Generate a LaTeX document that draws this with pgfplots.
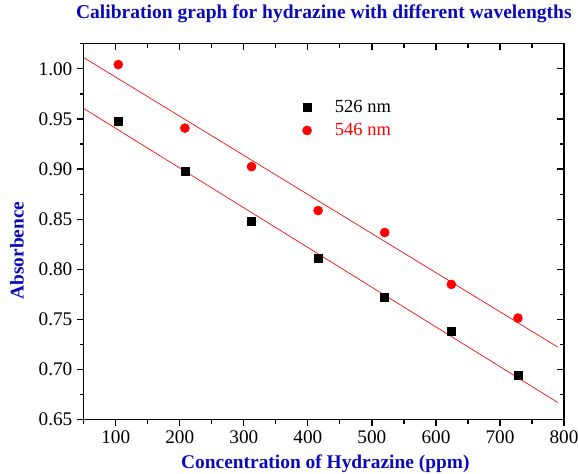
\documentclass[border=0pt]{standalone}
\usepackage{pgfplots}
\pgfplotsset{compat=1.18}
\usetikzlibrary{calc}
\usepackage{fontspec}
\setmainfont{Liberation Serif}
\definecolor{ttl}{RGB}{10,10,185}
\definecolor{rd}{RGB}{255,0,0}
\begin{document}
\begin{tikzpicture}
\pgfplotsset{
  common/.style={
    scale only axis, width=361.5pt, height=282.75pt,
    xmin=50, xmax=800, ymin=0.65, ymax=1.025,
    xtick={100,200,...,800}, minor xtick={50,150,...,750},
    ytick={0.65,0.70,...,1.00}, minor ytick={0.675,0.725,...,1.0},
    axis line style={line width=0.9pt},
    every tick/.style={line width=0.9pt, black},
    major tick length=5pt, minor tick length=3pt,
  }
}
\begin{axis}[common, name=a,
  xtick pos=bottom, ytick pos=left, tick align=outside,
  ticklabel style={font=\fontsize{14.5}{16}\selectfont},
  /pgf/number format/assume math mode=true,
  yticklabel style={/pgf/number format/.cd, fixed, fixed zerofill, precision=2},
  xlabel={\textbf{Concentration of Hydrazine (ppm)}},
  ylabel={\textbf{Absorbence}},
  label style={font=\fontsize{14.6}{16}\selectfont, text=ttl},
  xlabel style={at={(axis description cs:0.503,0)}, anchor=base, yshift=-36.75pt},
  ylabel style={at={(axis description cs:-0.139,0.45)}, anchor=center},
  title={\textbf{Calibration graph for hydrazine with different wavelengths}},
  title style={font=\fontsize{14.7}{16}\selectfont, text=ttl, at={(axis description cs:0.5,1)}, anchor=base, yshift=13pt},
  legend style={draw=none, fill=none, inner sep=0pt, at={(0.455,0.857)}, anchor=north west,
    font=\fontsize{13.9}{16}\selectfont, row sep=2.5pt, cells={anchor=west}},
  legend image code/.code={\path[draw=none] (0pt,0pt) -- (19pt,0pt); \draw[#1] plot coordinates {(0pt,0pt)};},
  legend cell align=left,
]
\addplot[only marks, mark=square*, mark size=3pt, black] coordinates {
(104,0.9475) (208,0.8974) (312,0.8480) (416,0.8108) (520,0.7720) (624,0.7384) (728,0.6940)};
\addlegendentry{526 nm}
\addplot[only marks, mark=*, mark size=3.4pt, rd] coordinates {
(104,1.0043) (208,0.9409) (312,0.9024) (416,0.8586) (520,0.8367) (624,0.7849) (728,0.7513)};
\addlegendentry{\textcolor{rd}{546 nm}}
\addplot[rd, line width=0.5pt, forget plot] coordinates {(50,0.9605) (790,0.6671)};
\addplot[rd, line width=0.5pt, forget plot] coordinates {(50,1.0113) (790,0.7224)};
\end{axis}
\begin{axis}[common,
  xtick pos=top, ytick pos=right, tick align=inside,
  xticklabels={}, yticklabels={},
]
\end{axis}
\pgfresetboundingbox
\path[use as bounding box] ($(a.south west)+(-63pt,-40.5pt)$) rectangle ($(a.north east)+(10.5pt,33pt)$);
\end{tikzpicture}
\end{document}
